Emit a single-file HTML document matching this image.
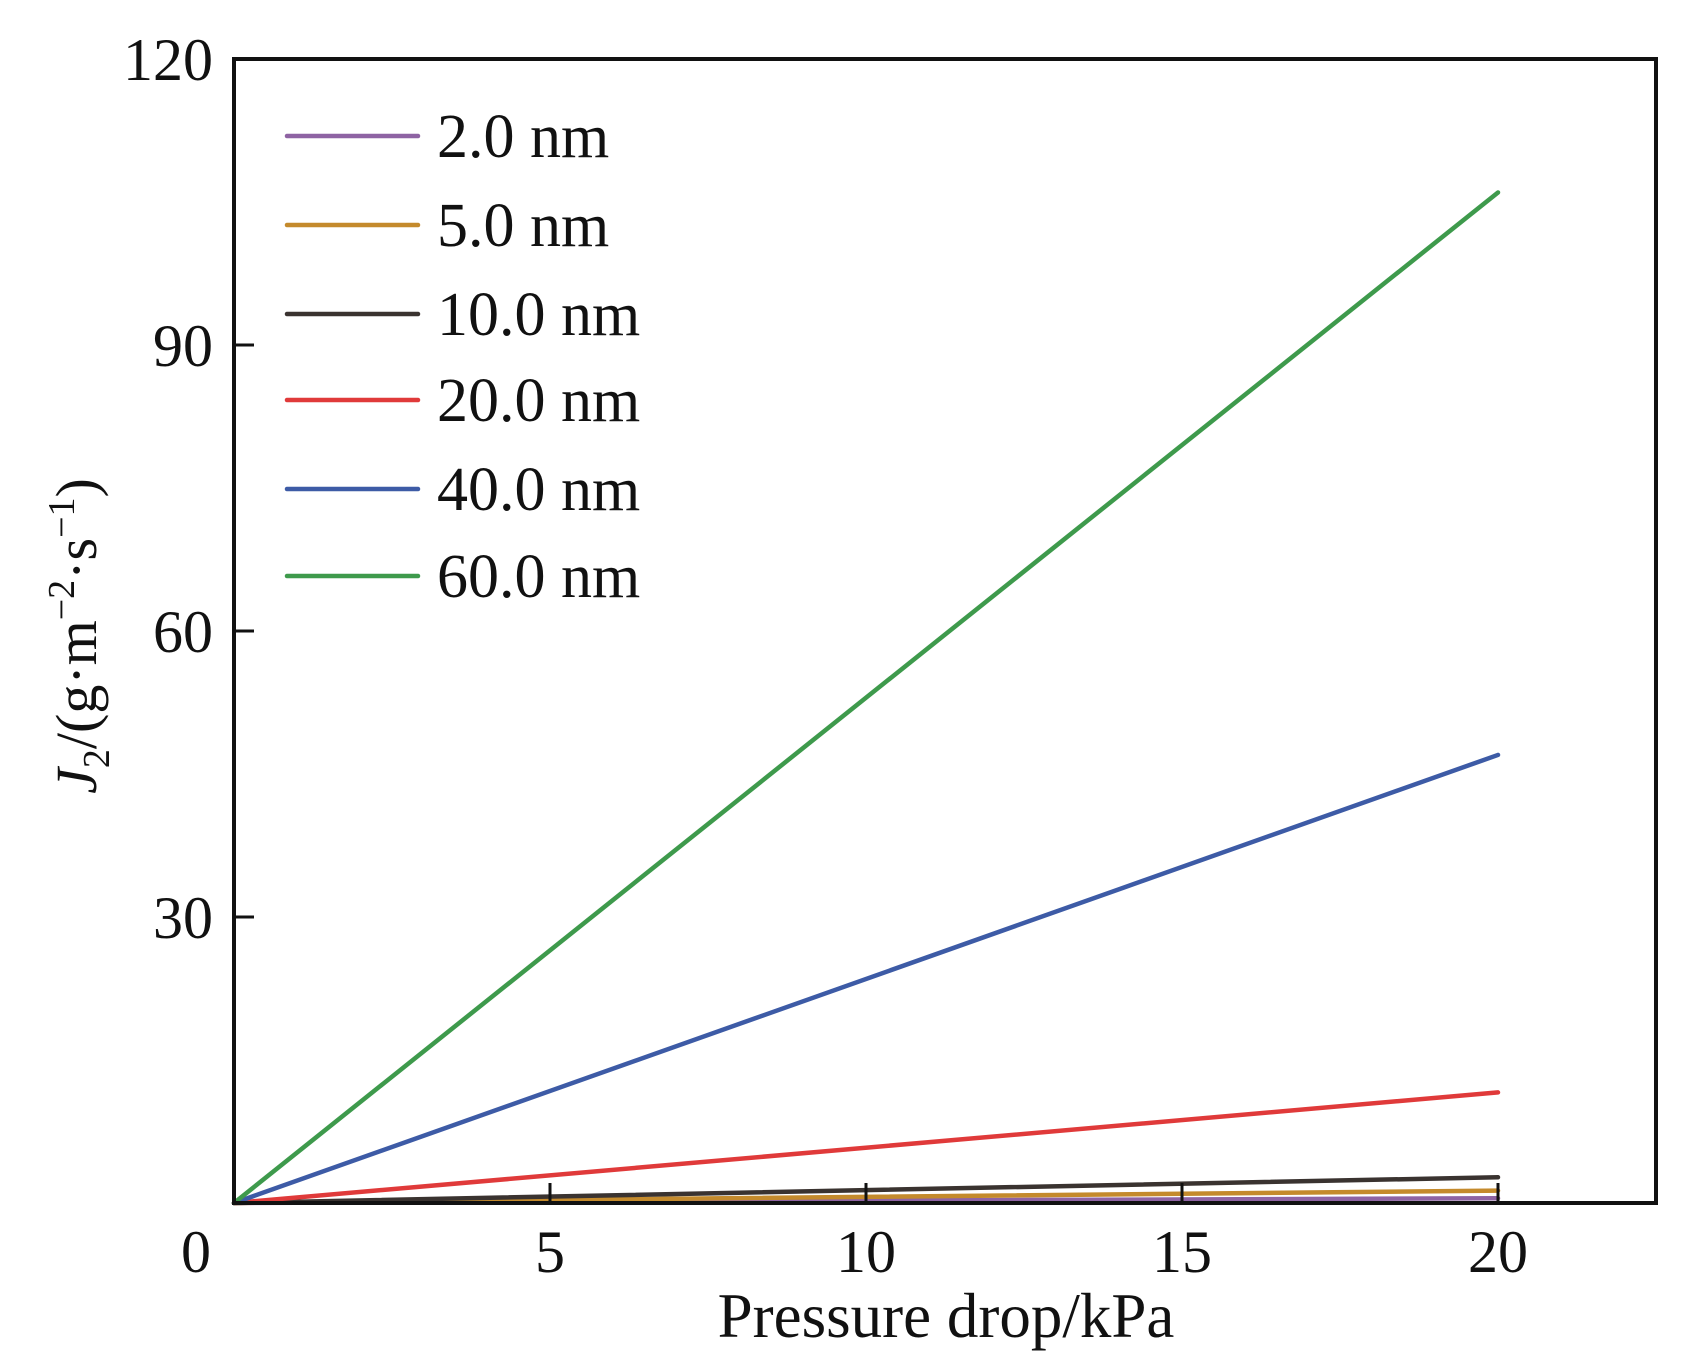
<!DOCTYPE html>
<html><head><meta charset="utf-8"><style>
html,body{margin:0;padding:0;background:#fff;}
svg{display:block;font-family:"Liberation Serif",serif;}
</style></head><body>
<svg id="chart" width="1703" height="1369" viewBox="0 0 1703 1369"></svg>
<script>
const categories = ["2.0 nm","5.0 nm","10.0 nm","20.0 nm","40.0 nm","60.0 nm"];
const colors = ["#8e63a3","#c48a2c","#3a3330","#e03a3a","#3d5ba6","#3e9a4c"];
const xStart = [0,0,0,0,0,0];
const xEnd = [20,20,20,20,20,20];
const yEnd = [0.5,1.3,2.7,11.6,47,106];
const xTicks = [0,5,10,15,20];
const yTicks = [0,30,60,90,120];
const L=234,R=1656,T=59,B=1203,XMAX=22.5,YMAX=120;
const sx=v=>L+v/XMAX*(R-L);
const sy=v=>B-v/YMAX*(B-T);
const svg=document.getElementById('chart');
const NS='http://www.w3.org/2000/svg';
function mk(tag,attrs,parent){const e=document.createElementNS(NS,tag);for(const k in attrs)e.setAttribute(k,attrs[k]);(parent||svg).appendChild(e);return e;}
categories.forEach((c,i)=>{
  const l=mk('line',{x1:sx(xStart[i]),y1:sy(0),x2:sx(xEnd[i]),y2:sy(yEnd[i]),stroke:colors[i],'stroke-width':4.5,'stroke-linecap':'round'});
  
  
});
const fr=mk('rect',{x:L,y:T,width:R-L,height:B-T,fill:'none',stroke:'#111','stroke-width':4});


xTicks.forEach(v=>{
  if(v>0){const t=mk('line',{x1:sx(v),y1:B,x2:sx(v),y2:B-20,stroke:'#111','stroke-width':3});
  
  }
  const tx=mk('text',{x:v===0?196:sx(v),y:1272,'font-size':60,'text-anchor':'middle',fill:'#111'});
  tx.textContent=v;
  
  
});
yTicks.forEach(v=>{
  if(v>0&&v<YMAX){const t=mk('line',{x1:L,y1:sy(v),x2:L+20,y2:sy(v),stroke:'#111','stroke-width':3});
  
  }
  if(v===0)return;
  const tx=mk('text',{x:213,y:sy(v)+21,'font-size':60,'text-anchor':'end',fill:'#111'});
  tx.textContent=v;
  
  
});
const legY=[136,225,314,400,489,576];
categories.forEach((c,i)=>{
  const g=mk('g',{});
  
  
  mk('line',{x1:287,y1:legY[i],x2:418,y2:legY[i],stroke:colors[i],'stroke-width':4.5,'stroke-linecap':'round'},g);
  const t=mk('text',{x:437,y:legY[i]+21,'font-size':62,fill:'#111'},g);
  t.textContent=c;
});
const xt=mk('text',{x:946,y:1337,'font-size':63,'text-anchor':'middle',fill:'#111'});
xt.textContent='Pressure drop/kPa';


const yt=mk('text',{x:0,y:0,'font-size':58,'text-anchor':'middle',fill:'#111',transform:'translate(96,636) rotate(-90)'});
yt.innerHTML='<tspan font-style="italic">J</tspan><tspan font-size="38" dy="13">2</tspan><tspan dy="-13">/(g·m</tspan><tspan font-size="38" dy="-22">−2</tspan><tspan dy="22">·s</tspan><tspan font-size="38" dy="-22">−1</tspan><tspan dy="22">)</tspan>';


</script>
</body></html>
